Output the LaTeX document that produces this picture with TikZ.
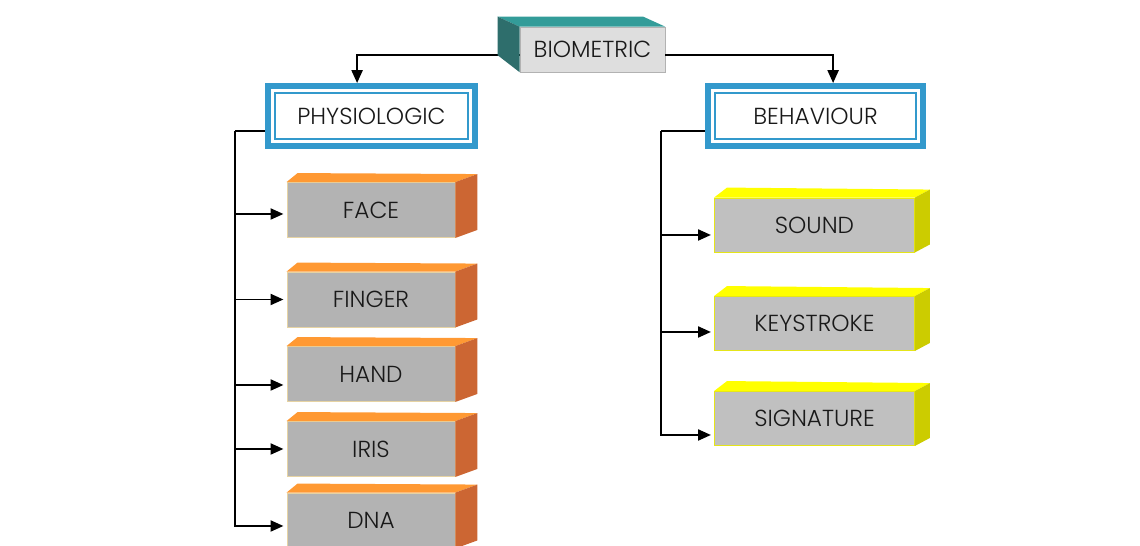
\documentclass[tikz,border=0pt]{standalone}
\usepackage{fontspec}
\setmainfont{Poppins}[UprightFont={* Light}]
\usetikzlibrary{arrows.meta}

\definecolor{frameblue}{HTML}{3399CC}
\definecolor{tealtop}{HTML}{339C99}
\definecolor{tealside}{HTML}{2E6E6C}
\definecolor{tealfront}{HTML}{DEDEDE}
\definecolor{orangetop}{HTML}{FF9933}
\definecolor{orangeside}{HTML}{CC6633}
\definecolor{orangefront}{HTML}{B3B3B3}
\definecolor{orangeedge}{HTML}{E6D3A3}
\definecolor{yellowtop}{HTML}{FFFF00}
\definecolor{yellowside}{HTML}{CCCC00}
\definecolor{yellowfront}{HTML}{C0C0C0}

\begin{document}
\begin{tikzpicture}[x=0.025cm, y=0.025cm,
  boxtext/.style={font=\fontsize{16.5}{19}\selectfont, text=black!90},
  headbox/.style={boxtext, shape=rectangle, draw=gray!60, fill=tealfront, minimum width=3.625cm, minimum height=1.125cm},
  groupbox/.style={boxtext, shape=rectangle, draw=frameblue, line width=0.16cm, fill=white, minimum height=1.49cm},
  orangebox/.style={boxtext, shape=rectangle, draw=orangeedge, line width=0.6pt, fill=orangefront, minimum width=4.2cm, minimum height=1.375cm},
  yellowbox/.style={boxtext, shape=rectangle, draw=yellowtop!80!gray, line width=0.6pt, fill=yellowfront, minimum width=5cm, minimum height=1.35cm},
  link/.style={line width=1pt, black},
  linkarrow/.style={link, -{Triangle[length=0.32cm, width=0.28cm]}, shorten >=0.08cm}
]

\fill[white] (0,0) rectangle (1140,546);
\useasboundingbox (0,0) rectangle (1140,546);

% top
\node[headbox] (bio) at (592.5,496.5) {BIOMETRIC};

% two groups
\node[groupbox, minimum width=5.165cm] (physio) at (371.5,430) {PHYSIOLOGIC};
\node[groupbox, minimum width=5.365cm] (behav) at (815.5,430) {BEHAVIOUR};

% left column
\node[orangebox] (face) at (371,336) {FACE};
\node[orangebox] (finger) at (371,246.5) {FINGER};
\node[orangebox] (hand) at (371,172) {HAND};
\node[orangebox] (iris) at (371,97) {IRIS};
\node[orangebox] (dna) at (371,25.5) {DNA};

% right column
\node[yellowbox] (sound) at (814.5,321) {SOUND};
\node[yellowbox] (keystroke) at (814.5,222.5) {KEYSTROKE};
\node[yellowbox] (signature) at (814.5,127.5) {SIGNATURE};

\coordinate (lt) at (235,415);
\coordinate (rt) at (661,415);

% links
\draw[linkarrow, shorten >=0pt] ([yshift=-0.14cm]bio.west) -| ([xshift=-0.36cm]physio.north);
\draw[linkarrow, shorten >=0pt] ([yshift=-0.14cm]bio.east) -| ([xshift=0.44cm]behav.north);

\draw[link] (physio.west |- lt) -- (lt);
\foreach \n/\d in {face/4, finger/0, hand/11, iris/0, dna/5.5}
  \draw[linkarrow] (lt) |- ([yshift=-\d*0.025cm]\n.west);

\draw[link] (behav.west |- rt) -- (rt);
\foreach \n/\d in {sound/10, keystroke/8.5, signature/16.5}
  \draw[linkarrow] (rt) |- ([yshift=-\d*0.025cm]\n.west);

% inner frame lines
\foreach \n in {physio,behav}
  \draw[frameblue, line width=0.045cm] ([shift={(0.245cm,-0.245cm)}]\n.north west) rectangle ([shift={(-0.245cm,0.245cm)}]\n.south east);

% box faces
\fill[tealtop] (bio.north west) -- ++(-22,10) -- ([shift={(-22,10)}]bio.north east) -- (bio.north east) -- cycle;
\fill[tealside] (bio.north west) -- ++(-22,10) -- ([shift={(-22,17)}]bio.south west) -- (bio.south west) -- cycle;

\foreach \n in {face,finger,hand,iris,dna} {
  \fill[orangetop] (\n.north west) -- ++(11,9) -- ([shift={(22,8)}]\n.north east) -- (\n.north east) -- cycle;
  \fill[orangeside] (\n.north east) -- ++(22,8) -- ([shift={(22,8)}]\n.south east) -- (\n.south east) -- cycle;
}

\foreach \n in {sound,keystroke,signature} {
  \fill[yellowtop] (\n.north west) -- ++(13,10) -- ([shift={(15,8)}]\n.north east) -- (\n.north east) -- cycle;
  \fill[yellowside] (\n.north east) -- ++(15,8) -- ([shift={(15,8)}]\n.south east) -- (\n.south east) -- cycle;
}

\end{tikzpicture}
\end{document}
